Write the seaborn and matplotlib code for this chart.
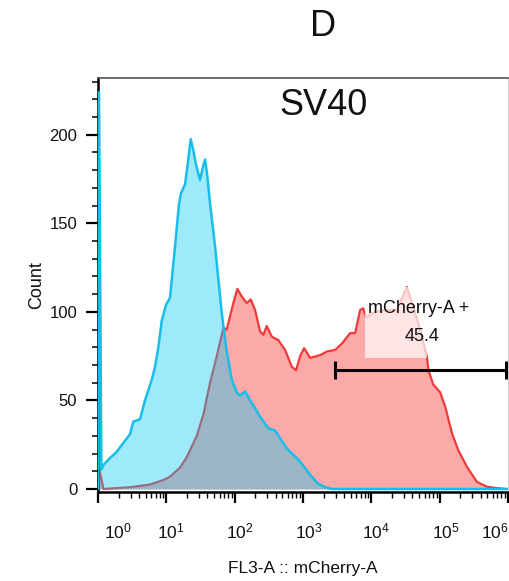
import numpy as np
import pandas as pd
import matplotlib
matplotlib.use("Agg")
import matplotlib.pyplot as plt
from matplotlib.patches import Rectangle
from matplotlib.transforms import ScaledTranslation
from matplotlib.ticker import FixedLocator, LogLocator, NullFormatter, MultipleLocator
import seaborn as sns

# ---- data (x in log10 decades of FL3-A :: mCherry-A, y = Count) ----
blue_log = [0.0, 0.015, 0.05, 0.078, 0.176, 0.274, 0.370, 0.469, 0.517, 0.615, 0.688, 0.786,
            0.835, 0.883, 0.933, 0.996, 1.054, 1.127, 1.186, 1.215, 1.274, 1.318, 1.357,
            1.391, 1.435, 1.493, 1.537, 1.567, 1.596, 1.640, 1.713, 1.811, 1.874, 1.958,
            2.031, 2.079, 2.152, 2.250, 2.372, 2.493, 2.592, 2.665, 2.763, 2.884, 2.958,
            3.104, 3.221, 3.324, 3.426, 4.5, 6.0]
blue_count = [0, 224, 11, 13.5, 17.5, 21, 26, 31, 38, 39.4, 50, 61.6,
              69, 80, 95, 104, 108, 137, 161, 167, 172, 185, 197.5,
              192, 183, 174.5, 182, 186, 178, 161, 137, 99.5, 80, 61.6,
              54.6, 52.7, 55, 48.6, 40.8, 34.3, 33, 28.6, 23, 18.3, 15.4,
              8, 3, 1, 0, 0, 0]

red_log = [0.0, 0.02, 0.08, 0.469, 0.761, 0.952, 1.054, 1.2, 1.299, 1.445, 1.542, 1.640,
           1.738, 1.811, 1.835, 1.884, 1.981, 2.040, 2.104, 2.177, 2.236, 2.299, 2.372,
           2.420, 2.470, 2.543, 2.640, 2.738, 2.836, 2.899, 2.958, 3.016, 3.104, 3.202,
           3.275, 3.348, 3.470, 3.568, 3.690, 3.763, 3.836, 3.880, 3.924, 4.056, 4.202,
           4.373, 4.451, 4.520, 4.612, 4.714, 4.813, 4.836, 4.905, 5.007, 5.081, 5.179,
           5.271, 5.398, 5.545, 5.691, 5.837, 5.974]
red_count = [0, 11, 0, 1, 2.5, 5, 7, 12, 18, 30, 42, 60,
             75, 87, 91, 90, 105, 113, 108.6, 105, 107, 101, 89,
             87, 92, 86, 84, 78.5, 69, 67, 75, 79.5, 74, 75,
             76, 77.6, 78.5, 82, 88, 88, 101, 102, 97, 100, 101,
             101, 108, 114, 103, 90, 74.7, 67, 59, 54.6, 46.5, 31.6,
             22, 12.6, 4, 1.3, 0.5, 0]

gate_log = [3.47, 5.97]
gate_count = 67
gate_name = "mCherry-A +"
gate_pct = "45.4"
label_box_log = [3.91, 4.82]
label_box_count = [74, 114]

x_decades = [0, 1, 2, 3, 4, 5, 6]
y_ticks = [0, 50, 100, 150, 200]

# ---- style ----
sns.set_style("ticks")
plt.rcParams["font.family"] = ["Liberation Sans", "DejaVu Sans"]
plt.rcParams["text.color"] = "#111111"
plt.rcParams["xtick.labelcolor"] = "#111111"
plt.rcParams["ytick.labelcolor"] = "#111111"
plt.rcParams["axes.labelcolor"] = "#111111"

blue_df = pd.DataFrame({"x": np.power(10.0, blue_log), "count": blue_count})
red_df = pd.DataFrame({"x": np.power(10.0, red_log), "count": red_count})

fig = plt.figure(figsize=(5.10, 5.81), dpi=100)
ax = fig.add_axes([98 / 510, 1 - 492 / 581, 410 / 510, 414 / 581])

red_fill = "#FBA9A9"
red_line = "#F03A3A"
blue_fill = (0 / 255, 202 / 255, 247 / 255)
blue_line = "#19BDEB"

# red histogram
ax.fill_between(red_df["x"], 0, red_df["count"], color=red_fill, lw=0, zorder=1)
sns.lineplot(data=red_df, x="x", y="count", ax=ax, color=red_line, lw=1.6, sort=False, zorder=2)
# blue histogram (translucent on top)
ax.fill_between(blue_df["x"], 0, blue_df["count"], color=blue_fill, alpha=0.38, lw=0, zorder=3)
sns.lineplot(data=blue_df, x="x", y="count", ax=ax, color=blue_line, lw=1.8, sort=False, zorder=4)

ax.set_xscale("log")
ax.set_xlim(10 ** x_decades[0], 10 ** x_decades[-1])
ax.set_ylim(-1.7, 232)

# gate label background
lo, hi = (10 ** v for v in label_box_log)
ax.add_patch(Rectangle((lo, label_box_count[0]), hi - lo, label_box_count[1] - label_box_count[0],
                       facecolor="white", alpha=0.7, lw=0, zorder=5))
# gate bar
g0, g1 = (10 ** v for v in gate_log)
ax.plot([g0, g1], [gate_count, gate_count], color="black", lw=2.2, zorder=6, solid_capstyle="butt")
ax.vlines([g0, g1], gate_count - 5, gate_count + 5, color="black", lw=2.2, zorder=6)
ax.text(10 ** 4.685, 102, gate_name, ha="center", va="center", fontsize=13, zorder=7)
ax.text(10 ** 4.744, 86, gate_pct, ha="center", va="center", fontsize=13, zorder=7)

# axes styling
for s in ["left", "bottom"]:
    ax.spines[s].set_linewidth(1.8)
    ax.spines[s].set_color("black")
ax.spines["top"].set_linewidth(1.2)
ax.spines["top"].set_color("#555555")
ax.spines["right"].set_linewidth(0.8)
ax.spines["right"].set_color("#cccccc")

ax.yaxis.set_major_locator(FixedLocator(y_ticks))
ax.yaxis.set_minor_locator(MultipleLocator(10))
ax.set_yticklabels([str(v) for v in y_ticks])
ax.xaxis.set_major_locator(FixedLocator([10 ** d for d in x_decades]))
ax.xaxis.set_minor_locator(LogLocator(base=10, subs=np.arange(2, 10), numticks=20))
ax.xaxis.set_minor_formatter(NullFormatter())
ax.set_xticklabels([r"$\mathregular{10^{%d}}$" % d for d in x_decades])

ax.tick_params(axis="y", which="major", direction="out", length=9, width=1.6, labelsize=12, pad=6, color="black")
ax.tick_params(axis="y", which="minor", direction="out", length=4, width=1.1, color="black")
ax.tick_params(axis="x", which="major", direction="out", length=8, width=1.6, labelsize=12.5, pad=13, color="black")
ax.tick_params(axis="x", which="minor", direction="out", length=4, width=1.0, color="black")

# nudge decade labels like the reference (first/last pulled inward)
offsets_px = [20, 4, 5, 6, 5, 6, -13]
for lab, dx in zip(ax.get_xticklabels(), offsets_px):
    lab.set_transform(lab.get_transform() + ScaledTranslation(dx / 100, 0, fig.dpi_scale_trans))

ax.set_xlabel("FL3-A :: mCherry-A", fontsize=12.5, labelpad=14)
ax.set_ylabel("Count", fontsize=13, labelpad=3)

ax.text(0.549, 0.933, "SV40", transform=ax.transAxes, ha="center", va="center", fontsize=26)
fig.text(323 / 510, 1 - 27 / 581, "D", ha="center", va="center", fontsize=26)

fig.savefig("out.png", dpi=100)
